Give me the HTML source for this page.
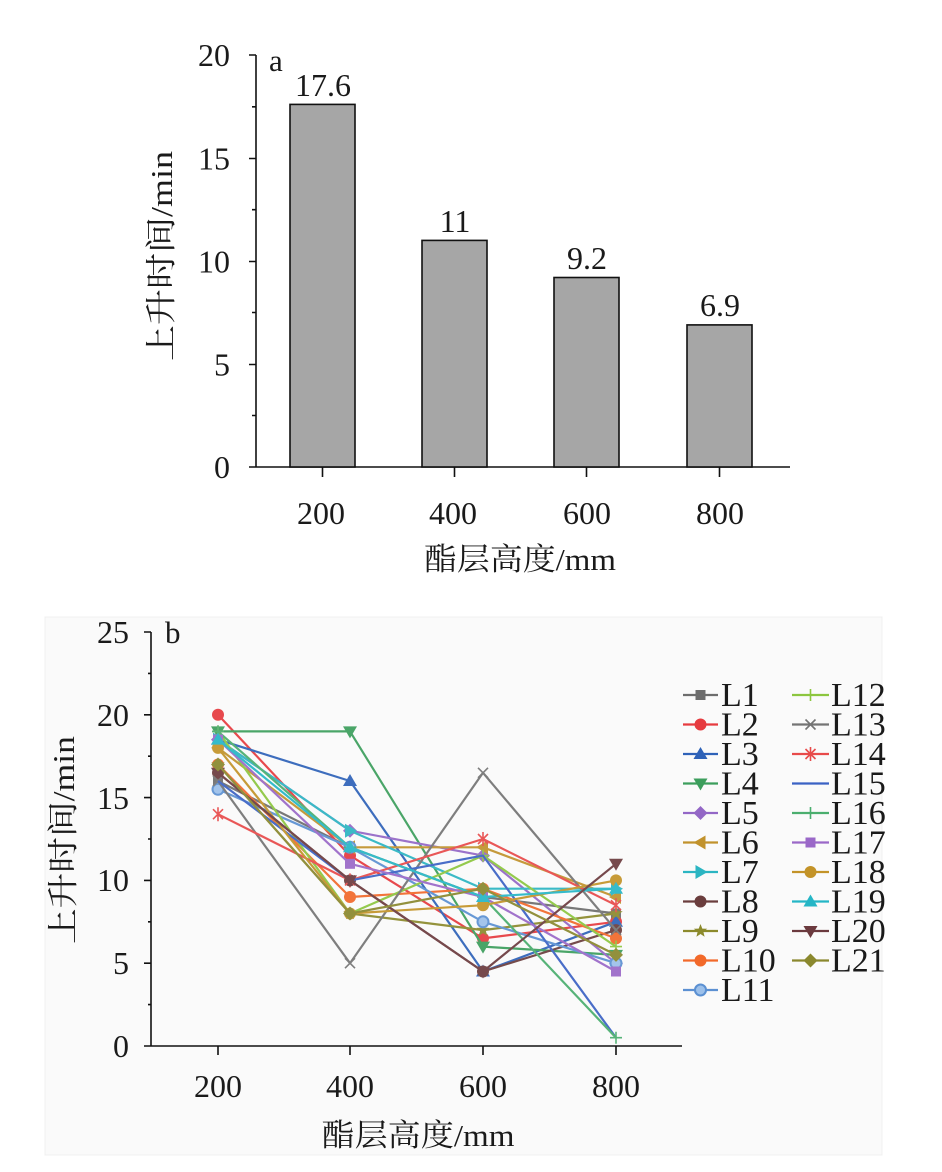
<!DOCTYPE html>
<html><head><meta charset="utf-8"><style>
html,body{margin:0;padding:0;background:#fff;}
svg{display:block;}
text{font-family:"Liberation Serif","Noto Serif CJK SC",serif;fill:#1a1a1a;}
</style></head><body>
<svg width="942" height="1172" viewBox="0 0 942 1172" xmlns="http://www.w3.org/2000/svg">
<defs>
<marker id="m1" markerUnits="userSpaceOnUse" overflow="visible" refX="0" refY="0" markerWidth="1" markerHeight="1"><rect x="-5" y="-5" width="10" height="10" fill="#6d6d6d"/></marker>
<marker id="m2" markerUnits="userSpaceOnUse" overflow="visible" refX="0" refY="0" markerWidth="1" markerHeight="1"><circle r="6" fill="#e63b3f"/></marker>
<marker id="m3" markerUnits="userSpaceOnUse" overflow="visible" refX="0" refY="0" markerWidth="1" markerHeight="1"><path d="M0,-7L7,5H-7Z" fill="#2e62b8"/></marker>
<marker id="m4" markerUnits="userSpaceOnUse" overflow="visible" refX="0" refY="0" markerWidth="1" markerHeight="1"><path d="M0,7L7,-5H-7Z" fill="#3c9e5c"/></marker>
<marker id="m5" markerUnits="userSpaceOnUse" overflow="visible" refX="0" refY="0" markerWidth="1" markerHeight="1"><path d="M0,-7L7,0L0,7L-7,0Z" fill="#9367c6"/></marker>
<marker id="m6" markerUnits="userSpaceOnUse" overflow="visible" refX="0" refY="0" markerWidth="1" markerHeight="1"><path d="M-7,0L5,-7V7Z" fill="#c1922c"/></marker>
<marker id="m7" markerUnits="userSpaceOnUse" overflow="visible" refX="0" refY="0" markerWidth="1" markerHeight="1"><path d="M7,0L-5,-7V7Z" fill="#2bb5c2"/></marker>
<marker id="m8" markerUnits="userSpaceOnUse" overflow="visible" refX="0" refY="0" markerWidth="1" markerHeight="1"><circle r="6" fill="#6a3d3d"/></marker>
<marker id="m9" markerUnits="userSpaceOnUse" overflow="visible" refX="0" refY="0" markerWidth="1" markerHeight="1"><path d="M0,-7L1.8,-2.4L6.7,-2.2L2.9,0.9L4.1,5.7L0,3L-4.1,5.7L-2.9,0.9L-6.7,-2.2L-1.8,-2.4Z" fill="#8c8a2c"/></marker>
<marker id="m10" markerUnits="userSpaceOnUse" overflow="visible" refX="0" refY="0" markerWidth="1" markerHeight="1"><circle r="6" fill="#f2692a"/></marker>
<marker id="m11" markerUnits="userSpaceOnUse" overflow="visible" refX="0" refY="0" markerWidth="1" markerHeight="1"><circle r="5.5" fill="#9cc0ea" stroke="#5b90d2" stroke-width="2"/></marker>
<marker id="m12" markerUnits="userSpaceOnUse" overflow="visible" refX="0" refY="0" markerWidth="1" markerHeight="1"><path d="M-6,0H6M0,-6V6" stroke="#8cc63f" stroke-width="1.6" fill="none"/></marker>
<marker id="m13" markerUnits="userSpaceOnUse" overflow="visible" refX="0" refY="0" markerWidth="1" markerHeight="1"><path d="M-5,-5L5,5M-5,5L5,-5" stroke="#747474" stroke-width="1.6" fill="none"/></marker>
<marker id="m14" markerUnits="userSpaceOnUse" overflow="visible" refX="0" refY="0" markerWidth="1" markerHeight="1"><path d="M-5,-5L5,5M-5,5L5,-5M0,-7V7" stroke="#e84a4a" stroke-width="1.6" fill="none"/></marker>
<marker id="m16" markerUnits="userSpaceOnUse" overflow="visible" refX="0" refY="0" markerWidth="1" markerHeight="1"><path d="M-6,0H6M0,-6V6" stroke="#4aae6e" stroke-width="1.6" fill="none"/></marker>
<marker id="m17" markerUnits="userSpaceOnUse" overflow="visible" refX="0" refY="0" markerWidth="1" markerHeight="1"><rect x="-5" y="-5" width="10" height="10" fill="#9a68c8"/></marker>
<marker id="m18" markerUnits="userSpaceOnUse" overflow="visible" refX="0" refY="0" markerWidth="1" markerHeight="1"><circle r="6" fill="#c39328"/></marker>
<marker id="m19" markerUnits="userSpaceOnUse" overflow="visible" refX="0" refY="0" markerWidth="1" markerHeight="1"><path d="M0,-7L7,5H-7Z" fill="#25b6c6"/></marker>
<marker id="m20" markerUnits="userSpaceOnUse" overflow="visible" refX="0" refY="0" markerWidth="1" markerHeight="1"><path d="M0,7L7,-5H-7Z" fill="#6b3a3e"/></marker>
<marker id="m21" markerUnits="userSpaceOnUse" overflow="visible" refX="0" refY="0" markerWidth="1" markerHeight="1"><path d="M0,-7L7,0L0,7L-7,0Z" fill="#8a882e"/></marker>
</defs>

<rect x="0" y="0" width="942" height="1172" fill="#fff"/>

<!-- ===== Chart a ===== -->
<g stroke="#111" stroke-width="1.6" fill="none">
  <line x1="256" y1="55" x2="256" y2="467"/>
  <line x1="256" y1="467" x2="790" y2="467"/>
  <path d="M249,55H256M249,158.5H256M249,261.5H256M249,364.5H256M249,467H256"/>
  <path d="M252,106.8H256M252,209.7H256M252,312.5H256M252,415.5H256"/>
  <path d="M322.5,467V477M454.5,467V477M586.5,467V477M719.5,467V477"/>
</g>
<g fill="#a6a6a6" stroke="#111" stroke-width="1.6">
  <rect x="290" y="104.4" width="65" height="362.6"/>
  <rect x="422" y="240.4" width="65" height="226.6"/>
  <rect x="554" y="277.5" width="65" height="189.5"/>
  <rect x="687" y="324.9" width="65" height="142.1"/>
</g>
<g font-size="32" text-anchor="end">
  <text x="230" y="66">20</text>
  <text x="230" y="169.5">15</text>
  <text x="230" y="272.5">10</text>
  <text x="230" y="375.5">5</text>
  <text x="230" y="478">0</text>
</g>
<g font-size="32" text-anchor="middle">
  <text x="323" y="96">17.6</text>
  <text x="455" y="232">11</text>
  <text x="587" y="269">9.2</text>
  <text x="720" y="316">6.9</text>
  <text x="321" y="524">200</text>
  <text x="453" y="524">400</text>
  <text x="587" y="524">600</text>
  <text x="720" y="524">800</text>
</g>
<text x="269" y="71" font-size="31">a</text>
<text x="520" y="570" font-size="31" text-anchor="middle" textLength="192" lengthAdjust="spacingAndGlyphs">酯层高度/mm</text>
<text transform="translate(172,256) rotate(-90)" font-size="31" text-anchor="middle" textLength="210" lengthAdjust="spacingAndGlyphs">上升时间/min</text>

<!-- ===== Chart b ===== -->
<rect x="45" y="617" width="837" height="538" fill="#fafafa" stroke="#f0f0f0" stroke-width="1"/>
<g stroke="#111" stroke-width="1.6" fill="none">
  <line x1="151" y1="632" x2="151" y2="1046"/>
  <line x1="151" y1="1046" x2="682" y2="1046"/>
  <path d="M144,632H151M144,714.8H151M144,797.6H151M144,880.4H151M144,963.2H151M144,1046H151"/>
  <path d="M148,673.4H151M148,756.2H151M148,839H151M148,921.8H151M148,1004.6H151"/>
  <path d="M218,1046V1055M350,1046V1055M483,1046V1055M616,1046V1055"/>
</g>
<g font-size="32" text-anchor="end">
  <text x="129" y="643">25</text>
  <text x="129" y="726">20</text>
  <text x="129" y="809">15</text>
  <text x="129" y="891">10</text>
  <text x="129" y="974">5</text>
  <text x="129" y="1057">0</text>
</g>
<g font-size="32" text-anchor="middle">
  <text x="218" y="1097">200</text>
  <text x="350" y="1097">400</text>
  <text x="483" y="1097">600</text>
  <text x="616" y="1097">800</text>
</g>
<text x="165" y="643" font-size="31">b</text>
<text x="418" y="1146" font-size="31" text-anchor="middle" textLength="193" lengthAdjust="spacingAndGlyphs">酯层高度/mm</text>
<text transform="translate(74,840) rotate(-90)" font-size="31" text-anchor="middle" textLength="208" lengthAdjust="spacingAndGlyphs">上升时间/min</text>

<g fill="none" stroke-width="2.2" stroke-linejoin="round" opacity="0.92">
  <polyline stroke="#6d6d6d" points="218,781 350,847.3 483,897 616,913.5" marker-start="url(#m1)" marker-mid="url(#m1)" marker-end="url(#m1)"/>
  <polyline stroke="#e63b3f" points="218,714.8 350,855.6 483,938.4 616,921.8" marker-start="url(#m2)" marker-mid="url(#m2)" marker-end="url(#m2)"/>
  <polyline stroke="#2e62b8" points="218,739.6 350,781 483,971.5 616,921.8" marker-start="url(#m3)" marker-mid="url(#m3)" marker-end="url(#m3)"/>
  <polyline stroke="#3c9e5c" points="218,731.4 350,731.4 483,946.6 616,954.9" marker-start="url(#m4)" marker-mid="url(#m4)" marker-end="url(#m4)"/>
  <polyline stroke="#9367c6" points="218,739.6 350,830.7 483,855.6 616,963.2" marker-start="url(#m5)" marker-mid="url(#m5)" marker-end="url(#m5)"/>
  <polyline stroke="#c1922c" points="218,747.9 350,847.3 483,847.3 616,897" marker-start="url(#m6)" marker-mid="url(#m6)" marker-end="url(#m6)"/>
  <polyline stroke="#2bb5c2" points="218,739.6 350,830.7 483,888.7 616,888.7" marker-start="url(#m7)" marker-mid="url(#m7)" marker-end="url(#m7)"/>
  <polyline stroke="#6a3d3d" points="218,772.8 350,880.4 483,971.5 616,930.1" marker-start="url(#m8)" marker-mid="url(#m8)" marker-end="url(#m8)"/>
  <polyline stroke="#8c8a2c" points="218,764.5 350,913.5 483,930.1 616,913.5" marker-start="url(#m9)" marker-mid="url(#m9)" marker-end="url(#m9)"/>
  <polyline stroke="#f2692a" points="218,764.5 350,897 483,888.7 616,938.4" marker-start="url(#m10)" marker-mid="url(#m10)" marker-end="url(#m10)"/>
  <polyline stroke="#5b90d2" points="218,789.3 350,847.3 483,921.8 616,963.2" marker-start="url(#m11)" marker-mid="url(#m11)" marker-end="url(#m11)"/>
  <polyline stroke="#8cc63f" points="218,731.4 350,913.5 483,855.6 616,946.6" marker-start="url(#m12)" marker-mid="url(#m12)" marker-end="url(#m12)"/>
  <polyline stroke="#747474" points="218,781 350,963.2 483,772.8 616,930.1" marker-start="url(#m13)" marker-mid="url(#m13)" marker-end="url(#m13)"/>
  <polyline stroke="#e84a4a" points="218,814.2 350,880.4 483,839 616,905.2" marker-start="url(#m14)" marker-mid="url(#m14)" marker-end="url(#m14)"/>
  <polyline stroke="#3a62c4" points="218,781 350,880.4 483,855.6 616,1037.7"/>
  <polyline stroke="#4aae6e" points="218,731.4 350,847.3 483,897 616,1037.7" marker-start="url(#m16)" marker-mid="url(#m16)" marker-end="url(#m16)"/>
  <polyline stroke="#9a68c8" points="218,739.6 350,863.8 483,897 616,971.5" marker-start="url(#m17)" marker-mid="url(#m17)" marker-end="url(#m17)"/>
  <polyline stroke="#c39328" points="218,747.9 350,913.5 483,905.2 616,880.4" marker-start="url(#m18)" marker-mid="url(#m18)" marker-end="url(#m18)"/>
  <polyline stroke="#25b6c6" points="218,739.6 350,847.3 483,897 616,888.7" marker-start="url(#m19)" marker-mid="url(#m19)" marker-end="url(#m19)"/>
  <polyline stroke="#6b3a3e" points="218,772.8 350,880.4 483,971.5 616,863.8" marker-start="url(#m20)" marker-mid="url(#m20)" marker-end="url(#m20)"/>
  <polyline stroke="#8a882e" points="218,764.5 350,913.5 483,888.7 616,954.9" marker-start="url(#m21)" marker-mid="url(#m21)" marker-end="url(#m21)"/>
</g>

<!-- legend -->
<g fill="none" stroke-width="2.2">
  <polyline stroke="#6d6d6d" points="683,695 700.5,695 718,695" marker-mid="url(#m1)"/>
  <polyline stroke="#e63b3f" points="683,724.5 700.5,724.5 718,724.5" marker-mid="url(#m2)"/>
  <polyline stroke="#2e62b8" points="683,754 700.5,754 718,754" marker-mid="url(#m3)"/>
  <polyline stroke="#3c9e5c" points="683,783.5 700.5,783.5 718,783.5" marker-mid="url(#m4)"/>
  <polyline stroke="#9367c6" points="683,813 700.5,813 718,813" marker-mid="url(#m5)"/>
  <polyline stroke="#c1922c" points="683,842.5 700.5,842.5 718,842.5" marker-mid="url(#m6)"/>
  <polyline stroke="#2bb5c2" points="683,872 700.5,872 718,872" marker-mid="url(#m7)"/>
  <polyline stroke="#6a3d3d" points="683,901.5 700.5,901.5 718,901.5" marker-mid="url(#m8)"/>
  <polyline stroke="#8c8a2c" points="683,931 700.5,931 718,931" marker-mid="url(#m9)"/>
  <polyline stroke="#f2692a" points="683,960.5 700.5,960.5 718,960.5" marker-mid="url(#m10)"/>
  <polyline stroke="#5b90d2" points="683,990 700.5,990 718,990" marker-mid="url(#m11)"/>
  <polyline stroke="#8cc63f" points="792,695 810.5,695 829,695" marker-mid="url(#m12)"/>
  <polyline stroke="#747474" points="792,724.5 810.5,724.5 829,724.5" marker-mid="url(#m13)"/>
  <polyline stroke="#e84a4a" points="792,754 810.5,754 829,754" marker-mid="url(#m14)"/>
  <polyline stroke="#3a62c4" points="792,783.5 810.5,783.5 829,783.5"/>
  <polyline stroke="#4aae6e" points="792,813 810.5,813 829,813" marker-mid="url(#m16)"/>
  <polyline stroke="#9a68c8" points="792,842.5 810.5,842.5 829,842.5" marker-mid="url(#m17)"/>
  <polyline stroke="#c39328" points="792,872 810.5,872 829,872" marker-mid="url(#m18)"/>
  <polyline stroke="#25b6c6" points="792,901.5 810.5,901.5 829,901.5" marker-mid="url(#m19)"/>
  <polyline stroke="#6b3a3e" points="792,931 810.5,931 829,931" marker-mid="url(#m20)"/>
  <polyline stroke="#8a882e" points="792,960.5 810.5,960.5 829,960.5" marker-mid="url(#m21)"/>
</g>
<g font-size="34">
  <text x="721" y="706">L1</text>
  <text x="721" y="735.5">L2</text>
  <text x="721" y="765">L3</text>
  <text x="721" y="794.5">L4</text>
  <text x="721" y="824">L5</text>
  <text x="721" y="853.5">L6</text>
  <text x="721" y="883">L7</text>
  <text x="721" y="912.5">L8</text>
  <text x="721" y="942">L9</text>
  <text x="721" y="971.5">L10</text>
  <text x="721" y="1001">L11</text>
  <text x="831" y="706">L12</text>
  <text x="831" y="735.5">L13</text>
  <text x="831" y="765">L14</text>
  <text x="831" y="794.5">L15</text>
  <text x="831" y="824">L16</text>
  <text x="831" y="853.5">L17</text>
  <text x="831" y="883">L18</text>
  <text x="831" y="912.5">L19</text>
  <text x="831" y="942">L20</text>
  <text x="831" y="971.5">L21</text>
</g>
</svg>
</body></html>
